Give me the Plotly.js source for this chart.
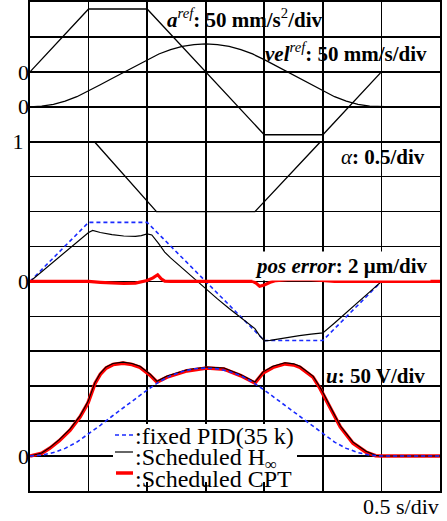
<!DOCTYPE html>
<html>
<head>
<meta charset="utf-8">
<script src="https://cdn.plot.ly/plotly-3.0.1.min.js"></script>
<style>html,body{margin:0;padding:0;background:#fff;}#chart{width:447px;height:521px;}</style>
</head>
<body>
<div id="chart"></div>
<script>
// ---- data (time in s) ----
var tA = [0, 0.5, 1.0, 2.0, 2.5, 3.0, 3.5];
var aRef = [0, 90, 90, -90, -90, 0, 0];            // mm/s^2

var tV = [0,0.1,0.2,0.3,0.4,0.5,0.6,0.7,0.8,0.9,1.0,1.1,1.2,1.3,1.4,1.5,1.6,1.7,1.8,1.9,2.0,2.1,2.2,2.3,2.4,2.5,2.6,2.7,2.8,2.9,3.0,3.1,3.2,3.3,3.4,3.5];
var velRef = [0,0.9,3.6,8.1,14.4,22.5,31.5,40.5,49.5,58.5,67.5,75.6,81.9,86.4,89.1,90,89.1,86.4,81.9,75.6,67.5,58.5,49.5,40.5,31.5,22.5,14.4,8.1,3.6,0.9,0,0,0,0,0,0]; // mm/s

var tAlpha = [0, 0.55, 1.08, 1.92, 2.48, 3.5];
var alpha = [1, 1, 0, 0, 1, 1];

var tErrPid = [0, 0.5, 1.0, 2.0, 2.5, 3.0, 3.5];
var errPid = [0, 3.38, 3.38, -3.38, -3.38, 0, 0];  // um

var tErrHinf = [0,0.1,0.2,0.3,0.4,0.5,0.535,0.6,0.7,0.8,0.9,0.95,1.0,1.04,1.1,1.15,1.2,1.3,1.4,1.5,1.6,1.7,1.8,1.88,1.92,1.96,2.0,2.05,2.1,2.2,2.3,2.4,2.5,2.6,2.7,2.8,2.9,3.0,3.05,3.12,3.2,3.3,3.5];
var errHinf = [0,0.56,1.13,1.69,2.25,2.8,2.92,2.8,2.68,2.6,2.58,2.62,2.72,2.66,2.15,1.68,1.35,0.75,0.15,-0.45,-1.0,-1.55,-2.05,-2.5,-2.7,-3.1,-3.4,-3.38,-3.32,-3.2,-3.1,-3.02,-2.95,-2.38,-1.8,-1.2,-0.6,0,0.15,0.2,0.08,0,0];

var tErrCpt = [0,0.5,0.6,0.7,0.8,0.9,1.0,1.05,1.09,1.12,1.15,1.2,1.9,1.93,1.96,2.0,2.05,2.1,2.2,2.4,2.55,2.6,3.5];
var errCpt = [0,0,-0.05,-0.1,-0.12,-0.1,0.05,0.2,0.38,0.15,0.02,0,0,-0.1,-0.28,-0.2,-0.05,0.05,0.1,0.1,0.05,0,0];

var tUPid = tV;
var uPid = [0,1.3,5,11,20,31.5,44,57,69,82,94.5,106,115,121,125,126,125,121,115,106,94.5,82,69,57,44,31.5,20,11,5,1.3,0,0,0,0,0,0]; // V

var tU = [0,0.1,0.171,0.25,0.341,0.427,0.495,0.555,0.6,0.65,0.709,0.794,0.87,0.939,1.024,1.084,1.17,1.34,1.51,1.656,1.8,1.92,1.99,2.074,2.177,2.25,2.305,2.416,2.476,2.5,2.56,2.65,2.757,2.868,2.95,3.0,3.5];
var uCpt  = [0,4,11.5,22,37,56,76,104,117,126,131,133,131,127,116,106,113,122,126,124.5,115,104.5,119,127,132,130.5,127,113,97,90,70,41.5,18.6,5.7,0.5,0,0];
var uHinf = [0,4.5,12.5,23.5,38.5,57.5,78,105.5,118.5,127.5,132.5,134.5,132.5,128.5,117.5,107,114.5,123.5,127.5,126,116.5,106,120.5,128.5,133.5,132,128.5,114.5,98.5,91.5,71.5,43,20,7,1,0,0];

// alpha axis carries the 0.5/div grid; only "1" is labelled
var alphaGrid = [-4,-3.5,-3,-2.5,-2,-1.5,-1,-0.5,0,0.5,1,1.5,2,2.5,3];
var alphaGridText = ['','','','','','','','','','','1','','','',''];

var legendNames = [':fixed PID(35 k)', ':Scheduled H<sub>∞</sub>', ':Scheduled CPT'];

// ---- styling ----
var SERIF = 'Liberation Serif, Times New Roman, serif';
var BLUE = '#1a2bff', RED = '#ff0000', BLACK = '#000000';

function line(x, y, ax, color, width, dash, name) {
  return {x: x, y: y, xaxis: 'x', yaxis: ax, type: 'scatter', mode: 'lines', name: name || '',
          line: {color: color, width: width, dash: dash || 'solid', shape: 'linear'},
          hoverinfo: 'skip', showlegend: false};
}

var traces = [
  line(tAlpha, alpha, 'y', BLACK, 1.3),
  line(tA, aRef, 'y2', BLACK, 1.3),
  line(tV, velRef, 'y3', BLACK, 1.3),
  line(tErrPid, errPid, 'y5', BLUE, 1.6, '4px,3px', 'fixed PID'),
  line(tErrHinf, errHinf, 'y5', BLACK, 1.2, null, 'Scheduled Hinf'),
  line(tErrCpt, errCpt, 'y5', RED, 3.2, null, 'Scheduled CPT'),
  line(tU, uCpt, 'y6', RED, 3.6, null, 'Scheduled CPT'),
  line(tU, uHinf, 'y6', BLACK, 1.1, null, 'Scheduled Hinf'),
  line(tUPid, uPid, 'y6', BLUE, 1.6, '4px,3px', 'fixed PID')
];

var tickFont = {family: SERIF, size: 22, color: '#000'};
function ovAxis(range, val, txt) {
  return {overlaying: 'y', side: 'left', anchor: 'x', range: range,
          tickmode: 'array', tickvals: [val], ticktext: [txt],
          showgrid: false, zeroline: false, showline: false, ticks: '',
          tickfont: tickFont, fixedrange: true};
}

// paper helpers (plot area: x 30..440, y 2..491)
function px(X) { return (X - 30) / 410; }
function py(Y) { return (491 - Y) / 489; }

var annFont = {family: SERIF, size: 21, color: '#000'};
var legFont = {family: SERIF, size: 24, color: '#000'};
function ann(text, X, Y, opts) {
  var a = {text: text, xref: 'paper', yref: 'paper', x: px(X), y: py(Y),
           xanchor: 'left', yanchor: 'middle', showarrow: false, font: annFont,
           borderpad: 0};
  for (var k in opts) a[k] = opts[k];
  return a;
}

var annotations = [
  ann('<b><i>a</i></b><sup><i>ref</i></sup><b>: 50 mm/s</b><sup>2</sup><b>/div</b>', 166, 18),
  ann('<b><i>vel</i></b><sup><i>ref</i></sup><b>: 50 mm/s/div</b>', 264, 53),
  ann('<i>α</i><b>: 0.5/div</b>', 340, 157),
  ann('<b><i>pos error</i>: 2 μm/div</b>', 252, 266, {bgcolor: '#ffffff', borderpad: 2}),
  ann('<b><i>u</i>: 50 V/div</b>', 325, 376),
  ann('0.5 s/div', 440, 506, {xanchor: 'right', font: {family: SERIF, size: 22, color: '#000'}}),
  ann(legendNames[0], 134, 436, {font: legFont}),
  ann(legendNames[1], 134, 459, {font: legFont}),
  ann(legendNames[2], 134, 479, {font: legFont})
];

var shapes = [
  {type: 'rect', xref: 'paper', yref: 'paper', x0: px(113), x1: px(297), y0: py(424), y1: py(482),
   fillcolor: '#ffffff', line: {width: 0}, layer: 'above'},
  {type: 'line', xref: 'paper', yref: 'paper', x0: px(115), x1: px(133), y0: py(435), y1: py(435),
   line: {color: BLUE, width: 1.6, dash: '4px,3px'}, layer: 'above'},
  {type: 'line', xref: 'paper', yref: 'paper', x0: px(115), x1: px(133), y0: py(452), y1: py(452),
   line: {color: BLACK, width: 1.2}, layer: 'above'},
  {type: 'line', xref: 'paper', yref: 'paper', x0: px(116), x1: px(133), y0: py(473), y1: py(473),
   line: {color: RED, width: 3.5}, layer: 'above'}
];

var layout = {
  width: 447, height: 521,
  margin: {l: 30, r: 7, t: 2, b: 30, pad: 0},
  paper_bgcolor: '#ffffff', plot_bgcolor: 'rgba(0,0,0,0)',
  showlegend: false,
  font: {family: SERIF, color: '#000'},
  xaxis: {range: [0, 3.5], tick0: 0, dtick: 0.5, showgrid: true, gridcolor: '#000', gridwidth: 1.6,
          showticklabels: false, ticks: '', zeroline: false, showline: true, mirror: true,
          linecolor: '#000', linewidth: 2, fixedrange: true},
  yaxis: {range: [-4, 3], tickmode: 'array', tickvals: alphaGrid, ticktext: alphaGridText,
          showgrid: true, gridcolor: '#000', gridwidth: 1.6, tickfont: tickFont,
          ticks: '', zeroline: false, showline: true, mirror: true,
          linecolor: '#000', linewidth: 2, fixedrange: true},
  yaxis2: ovAxis([-600, 100], 0, '0'),
  yaxis3: ovAxis([-550, 150], 0, '0'),
  yaxis5: ovAxis([-12, 16], 0, '0'),
  yaxis6: ovAxis([-50, 650], 0, '0'),
  annotations: annotations,
  shapes: shapes
};

Plotly.newPlot('chart', traces, layout, {staticPlot: true, displayModeBar: false});
</script>
</body>
</html>
